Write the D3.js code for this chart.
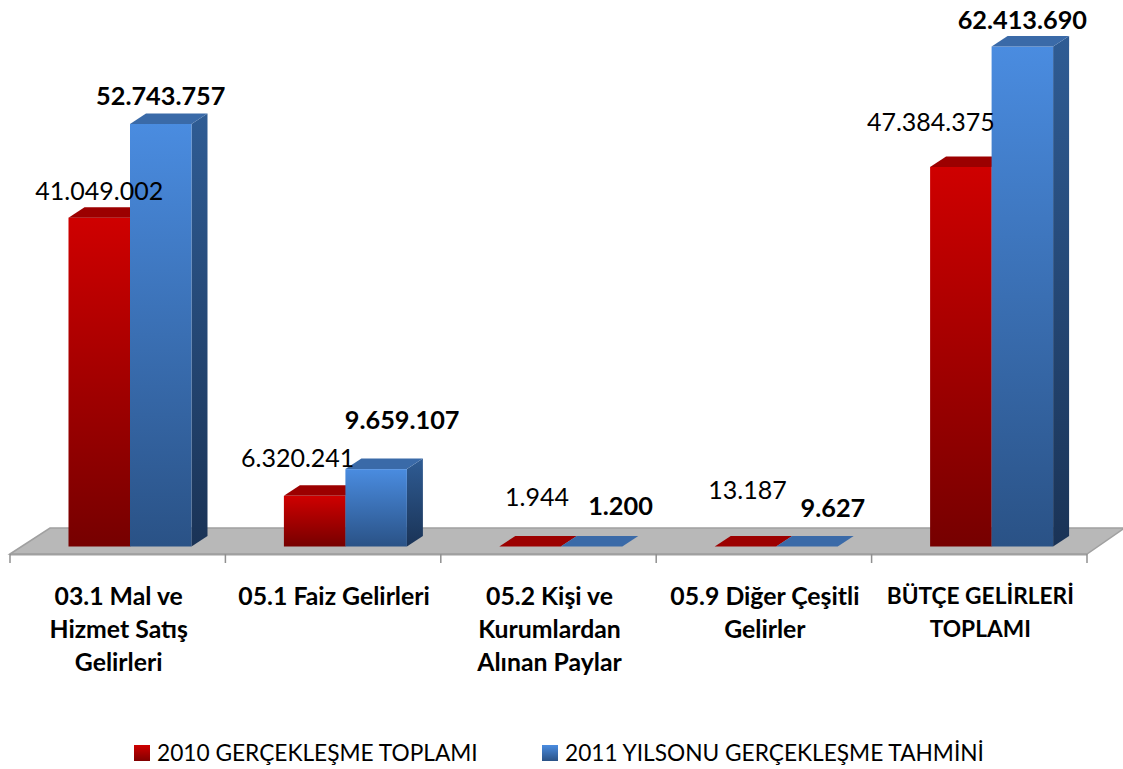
<!DOCTYPE html>
<html><head><meta charset="utf-8">
<script src="https://cdn.jsdelivr.net/npm/d3@7/dist/d3.min.js"></script>
<style>html,body{margin:0;padding:0;background:#fff}svg{display:block}text{font-family:Lato,Carlito,sans-serif;fill:#000}</style>
</head><body><svg id="c" width="1123" height="769"></svg>
<script>
const categories=["03.1 Mal ve|Hizmet Satış|Gelirleri","05.1 Faiz Gelirleri","05.2 Kişi ve|Kurumlardan|Alınan Paylar","05.9 Diğer Çeşitli|Gelirler","BÜTÇE GELİRLERİ|TOPLAMI"];
const seriesNames=["2010 GERÇEKLEŞME TOPLAMI","2011 YILSONU GERÇEKLEŞME TAHMİNİ"];
const values2010=[41049002,6320241,1944,13187,47384375];
const values2011=[52743757,9659107,1200,9627,62413690];
const labelDx2010=[0,-17,7,2,-30];
const labelDy2010=[-27,-38,-49,-56,-45];
const labelDx2011=[0,26,29,26,0];
const labelDy2011=[-28,-49,-41,-39,-27];

const svg=d3.select("#c"),defs=svg.append("defs");
function grad(id,top,bot){const g=defs.append("linearGradient").attr("id",id).attr("x1",0).attr("y1",0).attr("x2",0).attr("y2",1);
 g.append("stop").attr("offset",0).attr("stop-color",top);g.append("stop").attr("offset",1).attr("stop-color",bot);}
grad("r","#cf0000","#760000");grad("b","#4a8ce0","#2a5286");grad("s","#2f5c94","#1a3356");
grad("lr","#cf0000","#800000");grad("lb","#4a8ce0","#2a5286");

const x=d3.scaleBand().domain(categories).range([10,1087]);
const y=d3.scaleLinear().domain([0,62413690]).range([546.5,46.5]);
const barW=61.5,dX=16,dY=10.5,barShift=12.3;
const floorFront=554,floorBack=528,floorDx=36;

// floor
svg.append("path").attr("d",`M${x.range()[0]},${floorFront}L${x.range()[0]+floorDx+4},${floorBack}L1123,${floorBack}L1123,529L${x.range()[1]},${floorFront}Z`)
 .attr("fill","#b8b8b8").attr("stroke","#a0a0a0").attr("stroke-width",1.5);
svg.append("line").attr("x1",10).attr("x2",1087).attr("y1",554.5).attr("y2",554.5).attr("stroke","#a0a0a0").attr("stroke-width",2);
const ticks=categories.map(c=>x(c)).concat([x.range()[1]]);
svg.selectAll(".t").data(ticks).join("line").attr("x1",d=>d).attr("x2",d=>d).attr("y1",554).attr("y2",563).attr("stroke","#909090").attr("stroke-width",1.5);

const series=[{v:values2010,off:-1,front:"url(#r)",top:"#9c0000",side:"#7a0000",dx:labelDx2010,dy:labelDy2010,w:400},
 {v:values2011,off:0,front:"url(#b)",top:"#3a6aa8",side:"url(#s)",dx:labelDx2011,dy:labelDy2011,w:700}];
series.forEach(s=>{
 const g=svg.append("g");
 s.v.forEach((val,i)=>{
  const c=x(categories[i])+x.bandwidth()/2+barShift, x0=c+s.off*barW, yt=y(val), y0=y(0);
  const h=y0-yt;
  if(h>1){
   g.append("path").attr("d",`M${x0+barW},${yt}L${x0+barW+dX},${yt-dY}L${x0+barW+dX},${y0-dY}L${x0+barW},${y0}Z`).attr("fill",s.side);
   g.append("rect").attr("x",x0).attr("y",yt).attr("width",barW).attr("height",h).attr("fill",s.front);
  }
  g.append("path").attr("d",`M${x0},${yt}L${x0+dX},${yt-dY}L${x0+barW+dX},${yt-dY}L${x0+barW},${yt}Z`).attr("fill",s.top);
 });
});
// data labels
series.forEach(s=>{
 svg.selectAll(null).data(s.v).join("text")
  .attr("x",(d,i)=>x(categories[i])+x.bandwidth()/2+barShift+s.off*barW+barW/2+s.dx[i])
  .attr("y",(d,i)=>y(d)+s.dy[i]).attr("dy","0.36em")
  .attr("text-anchor","middle").attr("font-size",s.w==700?25.3:25).attr("font-weight",s.w)
  .text(d=>d3.format(",")(d).replace(/,/g,"."));
});
// category labels: all-caps lines are set a little smaller to match the reference widths
categories.forEach(c=>{
 c.split("|").forEach((ln,j)=>{
  svg.append("text").attr("x",x(c)+x.bandwidth()/2+1).attr("y",596+j*33).attr("dy","0.36em").attr("text-anchor","middle")
   .attr("font-size",ln===ln.toLocaleUpperCase("tr")?22.7:24.8).attr("font-weight",700).text(ln);
 });
});
// legend
const lx=[134,542],lf=["url(#lr)","url(#lb)"];
seriesNames.forEach((n,i)=>{
 svg.append("rect").attr("x",lx[i]).attr("y",745).attr("width",16).attr("height",16).attr("fill",lf[i]);
 svg.append("text").attr("x",lx[i]+23).attr("y",753).attr("dy","0.36em").attr("font-size",22.7).text(n);
});
</script></body></html>
